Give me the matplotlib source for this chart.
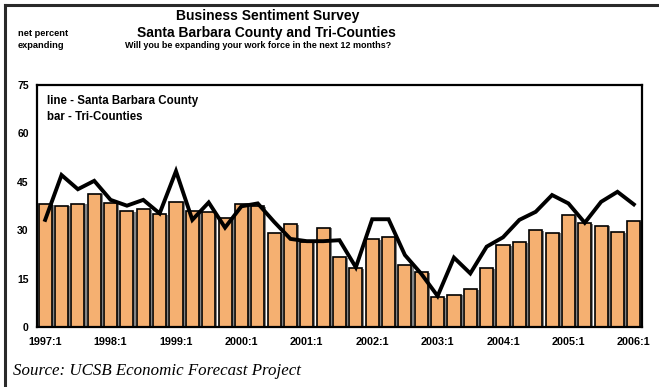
import matplotlib
matplotlib.use("Agg")
import matplotlib.pyplot as plt
import matplotlib.patheffects as pe
from matplotlib.lines import Line2D
import numpy as np

# Quarterly survey results, 1997:1 - 2006:1
quarters = [f"{y}:{q}" for y in range(1997, 2007) for q in range(1, 5)][:37]
tri_counties = [38.0, 37.6, 38.2, 41.3, 38.5, 35.9, 36.5, 34.9,
                38.8, 36.0, 35.5, 33.9, 38.2, 37.4, 29.1, 31.8,
                26.2, 30.8, 21.6, 18.2, 27.3, 28.0, 19.1, 17.1,
                9.3, 10.0, 11.7, 18.3, 25.3, 26.2, 30.1, 29.2,
                34.6, 32.1, 31.4, 29.4, 32.8]
santa_barbara = [33.2, 47.1, 42.7, 45.3, 39.4, 37.6, 39.4, 35.2,
                 48.3, 33.2, 38.6, 30.8, 37.4, 38.3, 32.6, 27.3,
                 26.6, 26.6, 26.9, 18.5, 33.4, 33.4, 22.3, 16.5,
                 9.6, 21.5, 16.6, 24.9, 27.8, 33.2, 35.7, 40.9,
                 38.3, 32.3, 38.8, 41.9, 38.0]
y_ticks = [0, 15, 30, 45, 60, 75]

W, H = 659, 387
fig = plt.figure(figsize=(W / 100, H / 100), dpi=100)
fig.patch.set_facecolor("white")

sans = "Liberation Sans"

ax = fig.add_axes([37 / W, 1 - 327 / H, (642 - 37) / W, (327 - 85) / H])
x = np.arange(len(quarters))
bars = ax.bar(x, tri_counties, width=0.8, color="#F5B071",
              edgecolor="black", linewidth=1.2, zorder=2)
for b in bars:
    b.set_path_effects([pe.SimplePatchShadow(offset=(1.5, -0.5),
                                             shadow_rgbFace="#777777",
                                             alpha=0.9),
                        pe.Normal()])
ax.plot(x, santa_barbara, color="black", linewidth=2.8,
        solid_joinstyle="miter", zorder=3)

ax.set_xlim(-0.5, len(quarters) - 0.5)
ax.set_ylim(0, 75)
ax.set_yticks(y_ticks)
ax.set_yticklabels([str(v) for v in y_ticks], fontfamily=sans,
                   fontweight="bold", fontsize=7.5)
xt = list(range(0, len(quarters), 4))
ax.set_xticks(xt)
ax.set_xticklabels([quarters[i] for i in xt], fontfamily=sans,
                   fontweight="bold", fontsize=7.8)
ax.tick_params(axis="x", length=0, pad=7)
ax.tick_params(axis="y", length=0, pad=6)
for s in ax.spines.values():
    s.set_linewidth(1.6)
    s.set_color("black")

ax.text(0.016, 0.935, "line - Santa Barbara County", transform=ax.transAxes,
        fontfamily=sans, fontweight="bold", fontsize=8.3, va="center")
ax.text(0.016, 0.868, "bar - Tri-Counties", transform=ax.transAxes,
        fontfamily=sans, fontweight="bold", fontsize=8.3, va="center")

# Titles and side label
fig.text(268 / W, 1 - 16 / H, "Business Sentiment Survey", ha="center",
         va="center", fontfamily=sans, fontweight="bold", fontsize=10)
fig.text(266 / W, 1 - 33 / H, "Santa Barbara County and Tri-Counties",
         ha="center", va="center", fontfamily=sans, fontweight="bold",
         fontsize=10)
fig.text(258 / W, 1 - 46 / H,
         "Will you be expanding your work force in the next 12 months?",
         ha="center", va="center", fontfamily=sans, fontweight="bold",
         fontsize=6.5)
fig.text(18 / W, 1 - 33 / H, "net percent", ha="left", va="center",
         fontfamily=sans, fontweight="bold", fontsize=6.7)
fig.text(18 / W, 1 - 46 / H, "expanding", ha="left", va="center",
         fontfamily=sans, fontweight="bold", fontsize=6.7)

fig.text(13 / W, 1 - 371 / H, "Source: UCSB Economic Forecast Project",
         ha="left", va="center", fontfamily="Liberation Serif",
         style="italic", fontsize=12.2)

# Frame lines along the top and left edges of the figure
fig.add_artist(Line2D([5 / W, 1], [1 - 5 / H, 1 - 5 / H],
                      transform=fig.transFigure, color="#2a2a2a",
                      linewidth=2.2))
fig.add_artist(Line2D([5 / W, 5 / W], [0, 1 - 5 / H],
                      transform=fig.transFigure, color="#2a2a2a",
                      linewidth=2.2))

fig.savefig("out.png", dpi=100)
